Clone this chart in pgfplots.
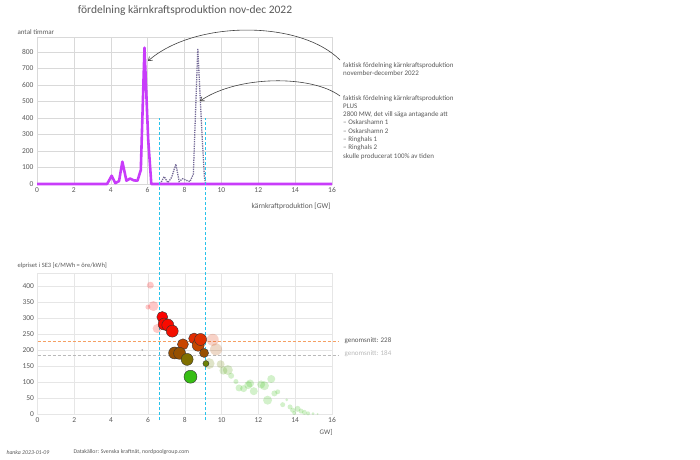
\documentclass[border=0pt]{standalone}
\usepackage{pgfplots}
\pgfplotsset{compat=1.18}
\usepackage{pgfplotstable}
\usepackage{fontspec}
\setmainfont{Carlito}
\usetikzlibrary{arrows.meta}

\definecolor{txt}{RGB}{89,89,89}
\definecolor{gridc}{RGB}{217,217,217}
\definecolor{gridb}{RGB}{230,230,230}
\definecolor{purp}{RGB}{200,60,250}
\definecolor{dotc}{RGB}{115,105,150}
\definecolor{cyanl}{RGB}{40,195,235}
\definecolor{avga}{RGB}{245,160,100}
\definecolor{avgb}{RGB}{185,185,185}

\pgfplotsset{
  colormap={price}{rgb255(0pt)=(55,190,20); rgb255(54pt)=(128,112,0); rgb255(73pt)=(150,80,0); rgb255(101pt)=(200,70,0); rgb255(118pt)=(225,45,0); rgb255(143pt)=(245,15,0); rgb255(193pt)=(255,0,0)},
  mystyle/.style={scale only axis, xmin=0, xmax=16, xtick={0,2,...,16},
    grid=major, major tick length=0,
    tick label style={font=\fontsize{7.5}{9}\selectfont, text=txt},
    /pgf/number format/assume math mode=true, clip=false}
}

% solid: actual distribution
\pgfplotstableread{
x y
0 0
3.8 0
4.05 50
4.25 5
4.45 18
4.63 135
4.85 20
5.05 33
5.25 22
5.45 20
5.63 85
5.83 825
6.03 270
6.2 0
16 0
}\actual

% dotted: actual plus 2800 MW
\pgfplotstableread{
x y
6.68 0
6.9 45
7.1 8
7.3 40
7.53 120
7.71 15
7.9 32
8.1 22
8.3 15
8.48 60
8.72 820
8.8 640
8.95 300
9.08 40
9.15 0
}\plus

% bubbles inside window
\pgfplotstableread{
x y r
6.78 303 5.5
6.88 281 6
7.08 278 6
7.32 259 6
7.9 218 5.5
7.45 191 6
7.72 190 6
8.13 171 6
8.51 236 5.5
8.73 215 6
8.86 233 6
9.05 191 4.5
9.15 158 3
8.31 117 6.5
}\inside

% bubbles outside window (faded)
\pgfplotstableread{
x y r
6.13 402 3.5
6.0 334 2.5
6.3 337 5
6.5 267 4.5
9.52 232 6
9.7 202 6
9.32 158 5.5
9.95 156 4
10.1 136 4
10.34 138 5
10.52 120 3
10.78 102 2.5
10.95 82 3.5
11.2 80 3.5
11.45 91 4
11.55 96 4
11.75 72 4
12.15 93 4
12.33 89 4.5
12.7 110 4
12.5 44 4.5
12.87 65 3
13.05 70 2.5
13.32 30 2.5
13.54 45 1.5
13.72 23 2.5
13.86 13 2.5
13.95 4 2
14.13 17 3
14.32 10 2.5
14.5 6 2.5
14.7 3 2
14.97 2 1.5
15.22 1 1
}\outside

\begin{document}
\begin{tikzpicture}[x=1pt,y=1pt]
\path[use as bounding box] (0,0) rectangle (700,459);

% title
\node[text=txt, font=\fontsize{11.5}{13}\selectfont] at (185,449) {fördelning kärnkraftsproduktion nov-dec 2022};

% ---------- top axis ----------
\begin{axis}[mystyle, at={(37pt,275pt)}, anchor=south west,
  width=295pt, height=147pt, ymin=0, ymax=890, ytick={0,100,...,800},
  major grid style={gridc, line width=0.5pt}, axis line style={gridc}]
\addplot[dotc, densely dotted, line width=1.3pt] table[x=x,y=y] {\plus};
\addplot[purp, line width=2.6pt, line join=round] table[x=x,y=y] {\actual};
\end{axis}

\node[text=txt, font=\fontsize{7}{8}\selectfont, anchor=west] at (14,427) {antal timmar};
\node[text=txt, font=\fontsize{7.5}{9}\selectfont, anchor=east] at (334,253) {kärnkraftproduktion [GW]};

% annotations
\node[text=txt, font=\fontsize{7}{8.3}\selectfont, anchor=north west, align=left, inner sep=0pt] at (343,397)
  {faktisk fördelning kärnkraftsproduktion\\november-december 2022};
\node[text=txt, font=\fontsize{7}{8.3}\selectfont, anchor=north west, align=left, inner sep=0pt] at (343,364)
  {faktisk fördelning kärnkraftsproduktion\\PLUS\\2800 MW, det vill säga antagande att\\– Oskarshamn 1\\– Oskarshamn 2\\– Ringhals 1\\– Ringhals 2\\skulle producerat 100\% av tiden};
\draw[black!75, line width=0.6pt, -{Straight Barb[length=3.5pt,width=5pt]}] (340,399) .. controls (300,439) and (195,439) .. (148,398);
\draw[black!75, line width=0.6pt, -{Straight Barb[length=3.5pt,width=5pt]}] (340,363) .. controls (312,384) and (238,384) .. (200,358);

% ---------- bottom axis ----------
\begin{axis}[mystyle, at={(37.5pt,44.7pt)}, anchor=south west,
  width=294.5pt, height=141.3pt, ymin=0, ymax=440, ytick={0,50,...,400},
  major grid style={gridb, line width=0.5pt}, axis line style={gridb},
  point meta min=117, point meta max=310, colormap name=price]
\draw[draw=avga, dash pattern=on 3pt off 2pt, line width=1pt] (axis cs:0,228) -- (axis cs:16.3,228);
\draw[draw=avgb, dash pattern=on 3pt off 2pt, line width=0.8pt] (axis cs:0,184) -- (axis cs:16.3,184);
\addplot[only marks, mark=*, mark size=0.6pt, color=black!30] coordinates {(5.69,200)};
\addplot[scatter, only marks, mark=*,
  scatter/use mapped color={draw opacity=0, fill=mapped color, fill opacity=0.22},
  visualization depends on={\thisrow{r} \as \rad},
  scatter/@pre marker code/.append style={/tikz/mark size=\rad pt}]
  table[x=x,y=y,meta=y] {\outside};
\addplot[scatter, only marks, mark=*,
  scatter/use mapped color={draw=black!80, line width=0.4pt, fill=mapped color},
  visualization depends on={\thisrow{r} \as \rad},
  scatter/@pre marker code/.append style={/tikz/mark size=\rad pt}]
  table[x=x,y=y,meta=y] {\inside};
% window lines, reaching up into the upper chart (to 400 h there)
\draw[draw=cyanl, dash pattern=on 3pt off 2pt, line width=0.8pt] (axis cs:6.6,-18) -- (axis cs:6.6,922);
\draw[draw=cyanl, dash pattern=on 3pt off 2pt, line width=0.8pt] (axis cs:9.1,-18) -- (axis cs:9.1,922);
\end{axis}

\node[text=txt, font=\fontsize{6.5}{8}\selectfont, anchor=west] at (14,193) {elpriset i SE3 [€/MWh = öre/kWh]};
\node[text=txt, font=\fontsize{7}{8}\selectfont, anchor=east] at (336,27) {GW]};
\node[text=txt, font=\fontsize{7}{8}\selectfont, anchor=west] at (341,118) {genomsnitt: 228};
\node[text=avgb, font=\fontsize{7}{8}\selectfont, anchor=west] at (341,105) {genomsnitt: 184};

% footer
\node[text=txt, font=\fontsize{5.8}{7}\selectfont\itshape, anchor=west] at (3,7) {hanka 2023-01-09};
\node[text=txt, font=\fontsize{5.8}{7}\selectfont, anchor=west] at (70,7) {Datakällor: Svenska kraftnät, nordpoolgroup.com};
\end{tikzpicture}
\end{document}
